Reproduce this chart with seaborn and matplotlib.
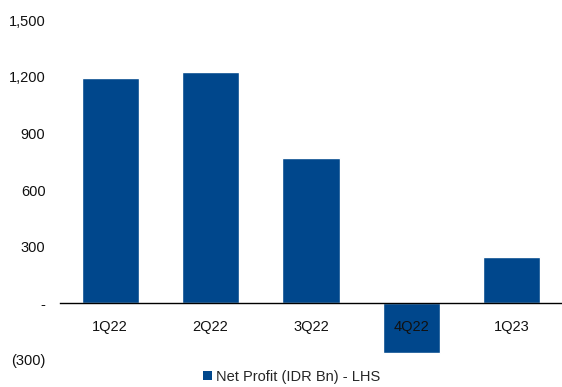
import matplotlib
matplotlib.use("Agg")
import matplotlib.pyplot as plt
import seaborn as sns
import pandas as pd
from matplotlib.patches import Patch

quarters = ["1Q22", "2Q22", "3Q22", "4Q22", "1Q23"]
net_profit = [1192, 1226, 772, -261, 243]
y_ticks = [-300, 0, 300, 600, 900, 1200, 1500]
y_tick_labels = ["(300)", "-", "300", "600", "900", "1,200", "1,500"]
series_label = "Net Profit (IDR Bn) - LHS"
bar_color = "#00478C"

sns.set_theme(style="white")
plt.rcParams["font.family"] = ["Liberation Sans", "DejaVu Sans"]

df = pd.DataFrame({"quarter": quarters, "value": net_profit})

fig = plt.figure(figsize=(5.62, 3.87), dpi=100)
ax = fig.add_axes([60 / 562, 1 - 360 / 387, 1 - 60 / 562, 340 / 387])

sns.barplot(data=df, x="quarter", y="value", color=bar_color, width=0.57,
            saturation=1, ax=ax)

ax.set_xlim(-0.5, 4.5)
ax.set_ylim(-300, 1500)
ax.set_yticks(y_ticks)
ax.set_yticklabels(y_tick_labels)
ax.set_xlabel("")
ax.set_ylabel("")

for side in ("top", "right", "left"):
    ax.spines[side].set_visible(False)
ax.spines["bottom"].set_position(("data", 0))
ax.spines["bottom"].set_color("black")
ax.spines["bottom"].set_linewidth(1.0)
ax.spines["bottom"].set_zorder(6)

# category labels sit on the zero line and stay visible over negative bars
ax.xaxis.set_zorder(5)

ax.tick_params(axis="y", length=0, pad=10.5, labelsize=10.5, colors="#111111")
ax.tick_params(axis="x", length=0, pad=12, labelsize=10.5, colors="#111111")

handle = Patch(facecolor=bar_color, edgecolor="none")
fig.legend([handle], [series_label], loc="center", bbox_to_anchor=(292 / 562, 1 - 377 / 387),
           frameon=False, fontsize=10.5, handlelength=0.6, handleheight=0.6,
           handletextpad=0.3, borderpad=0, borderaxespad=0)

fig.savefig("out.png", dpi=100)
